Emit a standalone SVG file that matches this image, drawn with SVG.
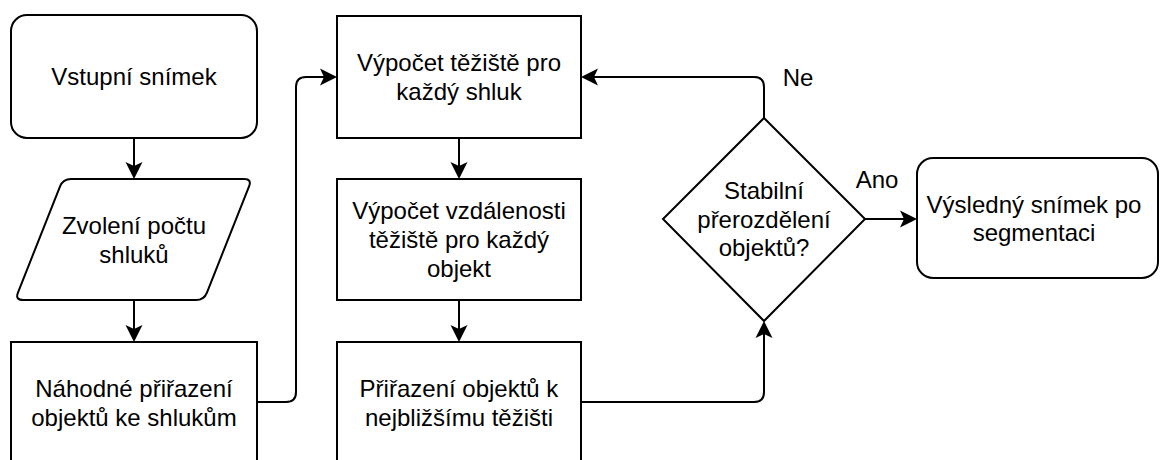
<svg xmlns="http://www.w3.org/2000/svg" width="1160" height="460" viewBox="0 0 1160 460">
  <style>
    .shape { fill: #ffffff; stroke: #000000; stroke-width: 2; }
    .edge { fill: none; stroke: #000000; stroke-width: 2; }
    .label { font-family: "Liberation Sans", Arial, sans-serif; font-size: 24px; fill: #000000; text-anchor: middle; }
  </style>
  <defs>
    <marker id="arrow" markerUnits="userSpaceOnUse" viewBox="-6 -10 20 20" markerWidth="20" markerHeight="20" refX="0" refY="0" orient="auto">
      <path d="M12,0 L-5,-8.5 L-1,0 L-5,8.5 Z" fill="#000000"/>
    </marker>
  </defs>

  <rect width="1160" height="460" fill="#ffffff"/>

  <!-- connectors -->
  <g id="connectors">
    <path class="edge" d="M134,138 V167" marker-end="url(#arrow)"/>
    <path class="edge" d="M134,300 V330" marker-end="url(#arrow)"/>
    <path class="edge" d="M257,402 H286 Q296,402 296,392 V87 Q296,77 306,77 H325" marker-end="url(#arrow)"/>
    <path class="edge" d="M459,138 V167" marker-end="url(#arrow)"/>
    <path class="edge" d="M459,300 V330" marker-end="url(#arrow)"/>
    <path class="edge" d="M581,402 H754 Q764,402 764,392 V333" marker-end="url(#arrow)"/>
    <path class="edge" d="M764,118 V87 Q764,77 754,77 H593" marker-end="url(#arrow)"/>
    <path class="edge" d="M865,219 H905" marker-end="url(#arrow)"/>
    <text class="label" x="798" y="86">Ne</text>
    <text class="label" x="877" y="188">Ano</text>
  </g>

  <!-- start -->
  <g id="node-input">
    <rect class="shape" x="11" y="15" width="246" height="123" rx="16" ry="16"/>
    <text class="label" x="134" y="85">Vstupní snímek</text>
  </g>

  <!-- cluster count (input/output) -->
  <g id="node-clusters">
    <path class="shape" d="M71,179 H244 Q252,179 249.05,186.43 L206.95,292.57 Q204,300 196,300 H23 Q15,300 17.95,292.57 L60.05,186.43 Q63,179 71,179 Z"/>
    <text class="label" x="134" y="234">Zvolení počtu</text>
    <text class="label" x="134" y="263">shluků</text>
  </g>

  <g id="node-random">
    <rect class="shape" x="11" y="342" width="246" height="122"/>
    <text class="label" x="134" y="397">Náhodné přiřazení</text>
    <text class="label" x="134" y="426">objektů ke shlukům</text>
  </g>

  <g id="node-centroid">
    <rect class="shape" x="337" y="16" width="244" height="122"/>
    <text class="label" x="459" y="71">Výpočet těžiště pro</text>
    <text class="label" x="459" y="100">každý shluk</text>
  </g>

  <g id="node-distance">
    <rect class="shape" x="337" y="179" width="244" height="121"/>
    <text class="label" x="459" y="219">Výpočet vzdálenosti</text>
    <text class="label" x="459" y="248">těžiště pro každý</text>
    <text class="label" x="459" y="277">objekt</text>
  </g>

  <g id="node-assign">
    <rect class="shape" x="337" y="342" width="244" height="122"/>
    <text class="label" x="459" y="397">Přiřazení objektů k</text>
    <text class="label" x="459" y="426">nejbližšímu těžišti</text>
  </g>

  <!-- decision -->
  <g id="node-stable">
    <path class="shape" d="M764,118 L865,219 L764,321 L663,219 Z"/>
    <text class="label" x="764" y="199">Stabilní</text>
    <text class="label" x="764" y="228">přerozdělení</text>
    <text class="label" x="764" y="256">objektů?</text>
  </g>

  <g id="node-result">
    <rect class="shape" x="917" y="158" width="241" height="120" rx="16" ry="16"/>
    <text class="label" x="1034" y="213">Výsledný snímek po</text>
    <text class="label" x="1034" y="241">segmentaci</text>
  </g>
</svg>
